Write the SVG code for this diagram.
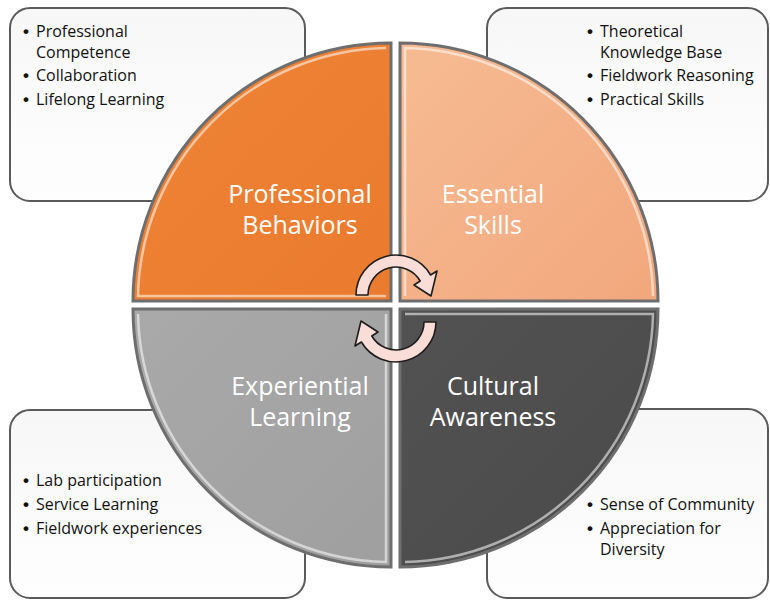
<svg xmlns="http://www.w3.org/2000/svg" width="770" height="600" viewBox="0 0 770 600">
<defs>
<linearGradient id="boxg" x1="0" y1="0" x2="0" y2="1">
<stop offset="0" stop-color="#F7F7F7"/><stop offset="1" stop-color="#FEFEFE"/>
</linearGradient>
<linearGradient id="g1" x1="0" y1="0" x2="1" y2="1">
<stop offset="0" stop-color="#EF8436"/><stop offset="1" stop-color="#EA7A2E"/>
</linearGradient>
<linearGradient id="g2" x1="0" y1="0" x2="1" y2="1">
<stop offset="0" stop-color="#F6BB93"/><stop offset="1" stop-color="#F2A77C"/>
</linearGradient>
<linearGradient id="g3" x1="0" y1="0" x2="1" y2="1">
<stop offset="0" stop-color="#A9A9A9"/><stop offset="1" stop-color="#9F9F9F"/>
</linearGradient>
<linearGradient id="g4" x1="0" y1="0" x2="1" y2="1">
<stop offset="0" stop-color="#525252"/><stop offset="1" stop-color="#4A4A4A"/>
</linearGradient>
</defs>
<style>
.box{fill:url(#boxg);stroke:#5A5A5A;stroke-width:2}
.quad{stroke:#6E6E6E;stroke-width:3}
.hl{fill:none;stroke:#FFFFFF;stroke-opacity:0.55;stroke-width:2.5}
.lbl{font-family:"Open Sans","Liberation Sans",sans-serif;font-size:25px;fill:#FFFFFF;text-anchor:middle}
.bt{font-family:"Open Sans","Liberation Sans",sans-serif;font-size:16px;fill:#111111}
.bu{font-family:"Liberation Sans",sans-serif;font-size:17px;font-weight:bold;fill:#111111}
.arr{fill:#F9DDD6;stroke:#1E1E1E;stroke-width:1.6;stroke-linejoin:round}
</style>

<g id="box-professional">
<rect class="box" x="10" y="8" width="295" height="193" rx="20"/>
<text class="bu"><tspan x="23" y="37">•</tspan><tspan x="23" y="81">•</tspan><tspan x="23" y="105">•</tspan></text>
<text class="bt"><tspan x="36" y="37">Professional</tspan><tspan x="36" y="58">Competence</tspan><tspan x="36" y="81">Collaboration</tspan><tspan x="36" y="105">Lifelong Learning</tspan></text>
</g>
<g id="box-essential">
<rect class="box" x="487" y="8" width="281" height="193" rx="20"/>
<text class="bu"><tspan x="587" y="37">•</tspan><tspan x="587" y="81">•</tspan><tspan x="587" y="105">•</tspan></text>
<text class="bt"><tspan x="600" y="37">Theoretical</tspan><tspan x="600" y="58">Knowledge Base</tspan><tspan x="600" y="81">Fieldwork Reasoning</tspan><tspan x="600" y="105">Practical Skills</tspan></text>
</g>
<g id="box-experiential">
<rect class="box" x="10" y="410" width="295" height="188" rx="20"/>
<text class="bu"><tspan x="23" y="486">•</tspan><tspan x="23" y="510">•</tspan><tspan x="23" y="534">•</tspan></text>
<text class="bt"><tspan x="36" y="486">Lab participation</tspan><tspan x="36" y="510">Service Learning</tspan><tspan x="36" y="534">Fieldwork experiences</tspan></text>
</g>
<g id="box-cultural">
<rect class="box" x="487" y="409" width="281" height="189" rx="20"/>
<text class="bu"><tspan x="587" y="510">•</tspan><tspan x="587" y="534">•</tspan></text>
<text class="bt"><tspan x="600" y="510">Sense of Community</tspan><tspan x="600" y="534">Appreciation for</tspan><tspan x="600" y="555">Diversity</tspan></text>
</g>

<g id="q-professional">
<path class="quad" fill="url(#g1)" d="M391 301 L133 301 A258 258 0 0 1 391 43 Z"/>
<path class="hl" d="M386 296 L138 296 A253 253 0 0 1 386 48"/>
<text class="lbl"><tspan x="300" y="203">Professional</tspan><tspan x="300" y="234">Behaviors</tspan></text>
</g>
<g id="q-essential">
<path class="quad" fill="url(#g2)" d="M400 301 L400 43 A258 258 0 0 1 658 301 Z"/>
<path class="hl" d="M405 296 L405 48 A253 253 0 0 1 653 296"/>
<text class="lbl"><tspan x="493" y="203">Essential</tspan><tspan x="493" y="234">Skills</tspan></text>
</g>
<g id="q-experiential">
<path class="quad" fill="url(#g3)" d="M391 309 L391 567 A258 258 0 0 1 133 309 Z"/>
<path class="hl" d="M386 314 L386 562 A253 253 0 0 1 138 314"/>
<text class="lbl"><tspan x="300" y="395">Experiential</tspan><tspan x="300" y="426">Learning</tspan></text>
</g>
<g id="q-cultural">
<path class="quad" fill="url(#g4)" d="M400 309 L658 309 A258 258 0 0 1 400 567 Z"/>
<path class="hl" d="M405 314 L653 314 A253 253 0 0 1 405 562"/>
<text class="lbl"><tspan x="493" y="395">Cultural</tspan><tspan x="493" y="426">Awareness</tspan></text>
</g>

<g id="connectors">
<path class="arr" d="M356 295 A40 40 0 0 1 430.6 275 L437 271 L431 296 L414 285 L420.2 281 A28 28 0 0 0 368 295 Z"/>
<path class="arr" transform="rotate(180 396 308.5)" d="M356 295 A40 40 0 0 1 430.6 275 L437 271 L431 296 L414 285 L420.2 281 A28 28 0 0 0 368 295 Z"/>
</g>
</svg>
